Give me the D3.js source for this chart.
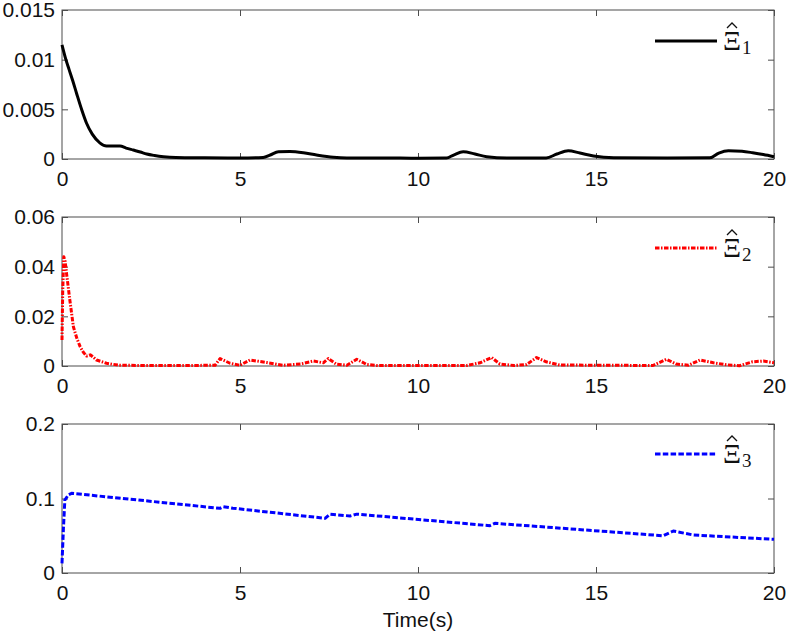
<!DOCTYPE html>
<html>
<head>
<meta charset="utf-8">
<script src="https://cdn.jsdelivr.net/npm/d3@7"></script>
<style>
  body { margin: 0; background: #fff; }
  svg { display: block; }
  .tick text { font-family: "Liberation Sans", Arial, sans-serif; font-size: 21px; fill: #111; }
</style>
</head>
<body>
<div id="chart"></div>
<script>
// Xi_1 estimate (black solid)
var t1 = [0, 0.11, 0.2, 0.3, 0.41, 0.55, 0.69, 0.85, 1.07, 1.25, 1.45, 1.63, 1.8, 2.0, 2.2, 2.38, 2.6, 2.85, 3.2, 4, 5,
          5.65, 5.85, 6.08, 6.4, 6.78, 7.15, 7.62, 8, 9, 10, 10.8, 11.0, 11.27, 11.6, 11.93, 12.5, 13.6, 13.9, 14.22,
          14.55, 14.93, 15.5, 17, 18.2, 18.45, 18.72, 19.1, 19.4, 19.7, 20];
var v1 = [0.0115, 0.0100, 0.0090, 0.0079, 0.0066, 0.0050, 0.0036, 0.0025, 0.0016, 0.0013, 0.0013, 0.0013, 0.0011, 0.0009,
          0.0007, 0.0005, 0.00035, 0.00023, 0.00015, 0.00012, 0.0001,
          0.00015, 0.0004, 0.00073, 0.00075, 0.00063, 0.0004, 0.00017, 0.0001, 0.0001, 0.00008, 0.0001, 0.0004, 0.00073,
          0.0005, 0.00023, 0.0001, 0.0001, 0.0005, 0.00084, 0.0006, 0.0003, 0.00012, 0.0001, 0.00012, 0.0006, 0.00084,
          0.00078, 0.00063, 0.00045, 0.00023];

// Xi_2 estimate (red dash-dot)
var t2 = [0, 0.02, 0.05, 0.09, 0.13, 0.22, 0.32, 0.42, 0.51, 0.6, 0.69, 0.8, 0.97, 1.25, 1.6, 2.5, 3.5, 4.3, 4.44, 4.72,
          5.0, 5.28, 5.75, 6.2, 6.7, 7.06, 7.34, 7.48, 7.7, 8.0, 8.28, 8.56, 8.84, 11.37, 11.74, 12.07, 12.3, 12.7,
          13.05, 13.33, 13.6, 13.98, 16.6, 16.98, 17.25, 17.6, 17.92, 18.3, 18.66, 19.03, 19.4, 19.7, 20];
var v2 = [0.0105, 0.03, 0.044, 0.042, 0.037, 0.0266, 0.0158, 0.011, 0.0078, 0.0055, 0.004, 0.0045, 0.0024, 0.0011, 0.0003,
          0.0002, 0.0002, 0.0003, 0.003, 0.0011, 0.0003, 0.0024, 0.0014, 0.0003, 0.0008, 0.002, 0.0013, 0.003, 0.0008,
          0.0003, 0.0027, 0.0006, 0.0002, 0.0002, 0.0013, 0.0034, 0.0008, 0.0002, 0.0006, 0.0034, 0.0017, 0.0004,
          0.0002, 0.0027, 0.0008, 0.0003, 0.0024, 0.0013, 0.0005, 0.0001, 0.0017, 0.002, 0.0013];

// Xi_3 estimate (blue dashed)
var t3 = [0, 0.04, 0.08, 0.18, 0.27, 4.44, 4.53, 4.8, 7.39, 7.53, 8.09, 8.28, 12.02, 12.16, 16.89, 17.17, 17.73, 20];
var v3 = [0.013, 0.06, 0.098, 0.105, 0.107, 0.0868, 0.089, 0.087, 0.0734, 0.079, 0.0765, 0.079, 0.0635, 0.0667, 0.050,
          0.0564, 0.051, 0.0452];

var xTicks = [0, 5, 10, 15, 20];
var panels = [
  { t: t1, v: v1, yMax: 0.015, yTicks: [0, 0.005, 0.01, 0.015], color: '#000', dash: null, sub: '1', curve: d3.curveMonotoneX },
  { t: t2, v: v2, yMax: 0.06, yTicks: [0, 0.02, 0.04, 0.06], color: '#ff0000', dash: '4.5,1.5,1.5,1.5', sub: '2', curve: d3.curveLinear },
  { t: t3, v: v3, yMax: 0.2, yTicks: [0, 0.1, 0.2], color: '#0000ff', dash: '5.5,2.3', sub: '3', curve: d3.curveLinear }
];

var width = 788, height = 637;
var left = 62, right = 774;
var tops = [10, 217, 424];
var ph = 149;

var svg = d3.select('#chart')
  .append('svg')
    .attr('width', width)
    .attr('height', height);

var x = d3.scaleLinear().domain([0, 20]).range([left, right]);

panels.forEach(function(p, i) {
    var top = tops[i];
    var y = d3.scaleLinear().domain([0, p.yMax]).range([top + ph, top]);
    var g = svg.append('g');

    g.append('rect')
        .attr('x', left)
        .attr('y', top)
        .attr('width', right - left)
        .attr('height', ph)
        .attr('fill', 'none')
        .attr('stroke', '#4d4d4d')
        .attr('stroke-width', 1);

    var fmt = d => d === 0 ? '0' : String(d);

    // bottom axis with labels, ticks pointing in
    g.append('g')
        .attr('transform', `translate(0,${top + ph})`)
        .call(d3.axisBottom(x).tickValues(xTicks).tickSize(-6).tickPadding(12).tickFormat(fmt));
    g.append('g')
        .attr('transform', `translate(0,${top})`)
        .call(d3.axisTop(x).tickValues(xTicks).tickSize(-6).tickFormat(''));
    g.append('g')
        .attr('transform', `translate(${left},0)`)
        .call(d3.axisLeft(y).tickValues(p.yTicks).tickSize(-6).tickPadding(7).tickFormat(fmt));
    g.append('g')
        .attr('transform', `translate(${right},0)`)
        .call(d3.axisRight(y).tickValues(p.yTicks).tickSize(-6).tickFormat(''));

    g.selectAll('.domain').remove();
    g.selectAll('.tick line').attr('stroke', '#4d4d4d');

    var line = d3.line()
        .x(d => x(d[0]))
        .y(d => y(d[1]))
        .curve(p.curve);

    g.append('path')
        .datum(p.t.map((t, k) => [t, p.v[k]]))
        .attr('d', line)
        .attr('fill', 'none')
        .attr('stroke', p.color)
        .attr('stroke-width', 3)
        .attr('stroke-linejoin', 'round')
        .attr('stroke-dasharray', p.dash);

    // legend
    var ly = top + [31, 31, 30][i];
    g.append('line')
        .attr('x1', 655).attr('x2', 717)
        .attr('y1', ly).attr('y2', ly)
        .attr('stroke', p.color)
        .attr('stroke-width', 3)
        .attr('stroke-dasharray', p.dash);

    var lt = g.append('text')
        .attr('x', 723)
        .attr('y', ly + 9)
        .attr('font-family', '"Liberation Serif", "DejaVu Serif", serif')
        .attr('font-size', 28)
        .attr('fill', '#111');
    lt.append('tspan').text('\u039E');
    lt.append('tspan').attr('font-size', 19).attr('dy', 4).attr('dx', 1).text(p.sub);

    // hat over the Xi
    var hx = 732, hy = ly - 13;
    var hat = d3.path();
    hat.moveTo(hx - 5, hy);
    hat.lineTo(hx, hy - 5);
    hat.lineTo(hx + 5, hy);
    g.append('path')
        .attr('d', hat.toString())
        .attr('fill', 'none')
        .attr('stroke', '#111')
        .attr('stroke-width', 1.3);
});

svg.append('text')
    .attr('x', 418)
    .attr('y', 627)
    .attr('text-anchor', 'middle')
    .attr('font-family', '"Liberation Sans", Arial, sans-serif')
    .attr('font-size', 21)
    .attr('fill', '#111')
    .text('Time(s)');
</script>
</body>
</html>
